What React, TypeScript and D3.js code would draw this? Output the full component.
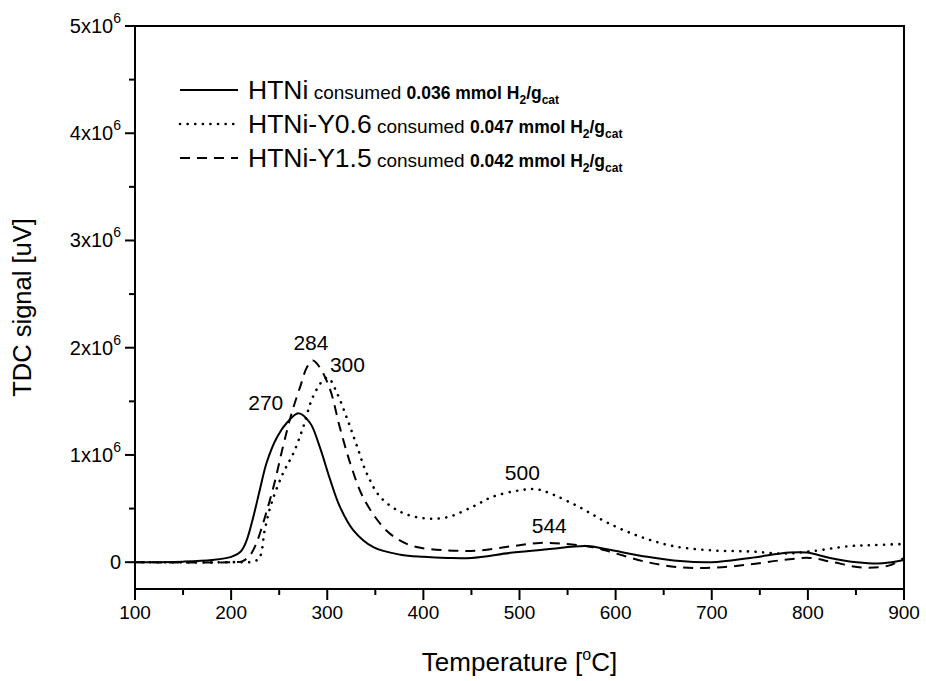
import React from "react";
import * as d3 from "d3";

const htniT = [100, 150, 180, 200, 210, 216, 223, 230, 237, 248, 258, 270, 282, 292, 303, 313, 327, 348, 376, 400, 425, 450, 493, 529, 570, 591, 633, 667, 700, 740, 781, 799, 823, 851, 878, 900];
const htniV = [0.0, 0.005, 0.02, 0.05, 0.1, 0.2, 0.42, 0.68, 0.93, 1.17, 1.3, 1.39, 1.3, 1.08, 0.77, 0.52, 0.3, 0.14, 0.07, 0.05, 0.04, 0.04, 0.09, 0.12, 0.15, 0.12, 0.05, 0.01, 0.0, 0.04, 0.09, 0.09, 0.04, 0.0, -0.01, 0.02];

const y06T = [100, 200, 225, 230, 235, 242, 254, 265, 275, 285, 296, 301, 310, 321, 331, 341, 355, 376, 400, 425, 452, 472, 500, 518, 535, 563, 591, 625, 660, 700, 740, 774, 802, 844, 870, 900];
const y06V = [0, 0, 0.01, 0.05, 0.3, 0.55, 0.83, 1.02, 1.26, 1.54, 1.7, 1.72, 1.58, 1.33, 1.08, 0.83, 0.61, 0.47, 0.41, 0.42, 0.52, 0.61, 0.67, 0.68, 0.63, 0.51, 0.37, 0.24, 0.15, 0.11, 0.1, 0.08, 0.1, 0.15, 0.16, 0.17];

const y15T = [100, 200, 212, 220, 225, 230, 244, 254, 263, 272, 279, 285, 292, 303, 313, 324, 337, 355, 369, 389, 425, 459, 493, 521, 549, 576, 597, 633, 670, 705, 740, 774, 802, 826, 857, 885, 900];
const y15V = [0, 0, 0.01, 0.07, 0.15, 0.27, 0.7, 1.08, 1.39, 1.64, 1.82, 1.88, 1.82, 1.61, 1.26, 0.92, 0.61, 0.36, 0.24, 0.15, 0.11, 0.11, 0.15, 0.18, 0.17, 0.14, 0.09, 0.0, -0.05, -0.05, -0.02, 0.02, 0.04, 0.0, -0.05, -0.03, 0.04];

const seriesNames = ["HTNi", "HTNi-Y0.6", "HTNi-Y1.5"];
const consumedValues = ["0.036", "0.047", "0.042"];

const xTicks = [100, 200, 300, 400, 500, 600, 700, 800, 900];
const xMinorTicks = [150, 250, 350, 450, 550, 650, 750, 850];
const yTicks = [0, 1, 2, 3, 4, 5];
const yMinorTicks = [0.5, 1.5, 2.5, 3.5, 4.5];

const peakLabels = ["270", "284", "300", "500", "544"];
const peakLabelT = [236, 283, 321, 503, 531];
const peakLabelV = [1.42, 1.98, 1.775, 0.77, 0.275];

const W = 926;
const H = 681;
const M = { left: 135, right: 22, top: 26, bottom: 92 };
const FONT = "'Liberation Sans', Arial, sans-serif";

export default function App() {
  const x = d3.scaleLinear().domain([100, 900]).range([M.left, W - M.right]);
  const y = d3.scaleLinear().domain([-0.25, 5]).range([H - M.bottom, M.top]);

  const line = d3
    .line<[number, number]>()
    .x((d) => x(d[0]))
    .y((d) => y(d[1]))
    .curve(d3.curveCatmullRom.alpha(0.5));

  const series = [
    { t: htniT, v: htniV, dash: undefined as string | undefined, width: 2, cap: "butt" },
    { t: y06T, v: y06V, dash: "0.1 7.5", width: 2.6, cap: "round" },
    { t: y15T, v: y15V, dash: "10 7", width: 2, cap: "butt" },
  ];

  const x0 = M.left;
  const x1 = W - M.right;
  const yb = H - M.bottom;
  const yt = M.top;

  const legendRows = [90, 124, 158];

  return (
    <svg
      width={W}
      height={H}
      style={{ position: "absolute", left: 0, top: 0, background: "#fff" }}
      fontFamily={FONT}
    >
      <rect x={0} y={0} width={W} height={H} fill="#fff" />
      <defs>
        <clipPath id="plotclip">
          <rect x={x0} y={yt} width={x1 - x0} height={yb - yt} />
        </clipPath>
      </defs>

      {/* curves */}
      <g clipPath="url(#plotclip)">
        {series.map((s, i) => (
          <path
            key={i}
            d={line(s.t.map((t, j) => [t, s.v[j]] as [number, number])) || ""}
            fill="none"
            stroke="#000"
            strokeWidth={s.width}
            strokeDasharray={s.dash}
            strokeLinecap={s.cap as any}
          />
        ))}
      </g>

      {/* frame */}
      <rect x={x0} y={yt} width={x1 - x0} height={yb - yt} fill="none" stroke="#000" strokeWidth={2} />

      {/* x ticks */}
      {xTicks.map((t) => (
        <g key={"xt" + t}>
          <line x1={x(t)} x2={x(t)} y1={yb} y2={yb + 11} stroke="#000" strokeWidth={2} />
          <text x={x(t)} y={yb + 30} textAnchor="middle" fontSize={19}>
            {t}
          </text>
        </g>
      ))}
      {xMinorTicks.map((t) => (
        <line key={"xm" + t} x1={x(t)} x2={x(t)} y1={yb} y2={yb + 6} stroke="#000" strokeWidth={2} />
      ))}

      {/* y ticks */}
      {yTicks.map((t) => (
        <g key={"yt" + t}>
          <line x1={x0 - 10} x2={x0} y1={y(t)} y2={y(t)} stroke="#000" strokeWidth={2} />
          {t === 0 ? (
            <text x={x0 - 14} y={y(t) + 7} textAnchor="end" fontSize={20}>
              0
            </text>
          ) : (
            <text x={x0 - 14} y={y(t) + 7} textAnchor="end" fontSize={20}>
              {t}x10
              <tspan fontSize={14} dy={-10}>
                6
              </tspan>
            </text>
          )}
        </g>
      ))}
      {yMinorTicks.map((t) => (
        <line key={"ym" + t} x1={x0 - 6} x2={x0} y1={y(t)} y2={y(t)} stroke="#000" strokeWidth={2} />
      ))}

      {/* axis titles */}
      <text x={(x0 + x1) / 2} y={671} textAnchor="middle" fontSize={26}>
        Temperature [
        <tspan fontSize={16} dy={-11}>
          o
        </tspan>
        <tspan dy={11}>C]</tspan>
      </text>
      <text
        transform={`translate(31, ${(yt + yb) / 2}) rotate(-90)`}
        textAnchor="middle"
        fontSize={25.5}
      >
        TDC signal [uV]
      </text>

      {/* peak labels */}
      {peakLabels.map((l, i) => (
        <text key={"pl" + i} x={x(peakLabelT[i])} y={y(peakLabelV[i])} textAnchor="middle" fontSize={21}>
          {l}
        </text>
      ))}

      {/* legend */}
      {seriesNames.map((name, i) => (
        <g key={"lg" + i}>
          <line
            x1={180}
            x2={238}
            y1={legendRows[i]}
            y2={legendRows[i]}
            stroke="#000"
            strokeWidth={series[i].width}
            strokeDasharray={series[i].dash}
            strokeLinecap={series[i].cap as any}
          />
          <text x={248} y={legendRows[i] + 9} fontSize={26.5}>
            {name}
            <tspan fontSize={19}> consumed </tspan>
            <tspan fontSize={17.5} fontWeight="bold">
              {consumedValues[i]} mmol H
            </tspan>
            <tspan fontSize={12} fontWeight="bold" dy={5}>
              2
            </tspan>
            <tspan fontSize={17.5} fontWeight="bold" dy={-5}>
              /g
            </tspan>
            <tspan fontSize={12} fontWeight="bold" dy={5}>
              cat
            </tspan>
          </text>
        </g>
      ))}
    </svg>
  );
}
